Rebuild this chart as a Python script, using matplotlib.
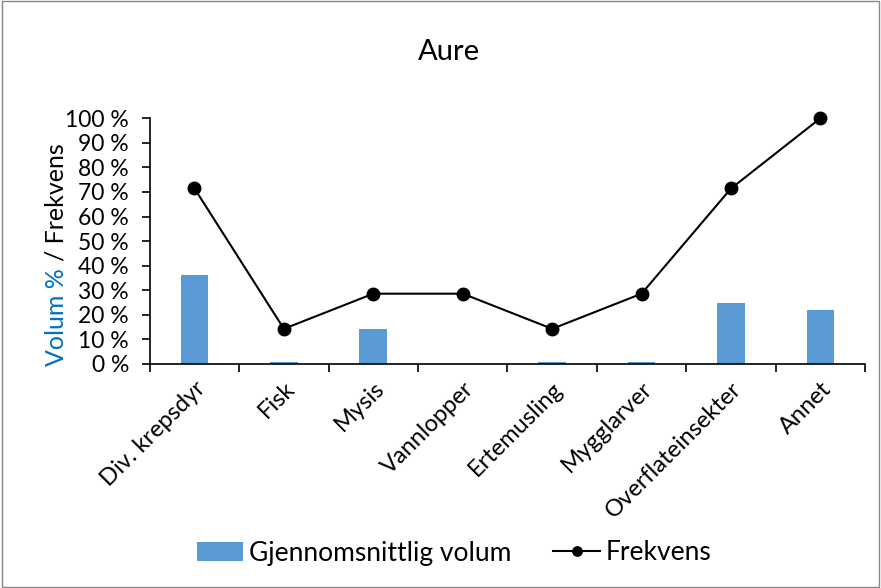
import numpy as np
import matplotlib.pyplot as plt
from matplotlib.patches import Rectangle

# data
kategorier = ['Div. krepsdyr', 'Fisk', 'Mysis', 'Vannlopper', 'Ertemusling',
              'Mygglarver', 'Overflateinsekter', 'Annet']
volum = [36, 1, 14.3, 0, 1, 1, 24.7, 21.8]
frekvens = [71.4, 14.3, 28.6, 28.6, 14.3, 28.6, 71.4, 100]

plt.rcParams['font.family'] = ['Lato', 'DejaVu Sans']

fig = plt.figure(figsize=(8.81, 5.88), dpi=100)
ax = fig.add_axes([0.170, 0.381, 0.812, 0.418])

x = np.arange(len(kategorier))
stolper = ax.bar(x, volum, width=0.31, color='#5B9BD5', label='Gjennomsnittlig volum', zorder=2)
linje, = ax.plot(x, frekvens, color='black', lw=1.5, marker='o', ms=9,
                 label='Frekvens', zorder=3, clip_on=False)

ax.set_xlim(-0.5, len(kategorier) - 0.5)
ax.set_ylim(0, 100)
ax.set_yticks(np.arange(0, 101, 10))
ax.set_yticklabels([f'{v} %' for v in range(0, 101, 10)], fontsize=16.5)
ax.set_xticks(x)
ax.set_xticklabels(kategorier, rotation=45, ha='right', rotation_mode='anchor', fontsize=17)
ax.tick_params(axis='x', length=0, pad=10)
ax.set_xticks(np.arange(-0.5, len(kategorier), 1), minor=True)
ax.tick_params(axis='x', which='minor', length=6, width=1.2, direction='out')
ax.tick_params(axis='y', length=6, width=1.2, direction='out', pad=9)
for s in ['top', 'right']:
    ax.spines[s].set_visible(False)
for s in ['left', 'bottom']:
    ax.spines[s].set_linewidth(1.2)

fig.text(449 / 881, 1 - 52 / 588, 'Aure', fontsize=21, ha='center', va='center')

# y-aksetittel i to farger
t1 = fig.text(0.064, 1 - 366 / 588, 'Volum %', color='#0070C0', rotation=90,
              ha='center', va='bottom', fontsize=18)
fig.canvas.draw()
bb = t1.get_window_extent(renderer=fig.canvas.get_renderer())
y2 = (bb.y1 + 7) / fig.bbox.height
fig.text(0.064, y2, '/ Frekvens', color='black', rotation=90,
         ha='center', va='bottom', fontsize=18)

leg = fig.legend(handles=[stolper, linje], loc='center', bbox_to_anchor=(454 / 881, 1 - 553 / 588),
                 ncol=2, frameon=False, fontsize=19, handlelength=1.75, columnspacing=1.6,
                 handletextpad=0.23, markerscale=0.75)

fig.patches.append(Rectangle((0.002, 0.002), 0.996, 0.996, transform=fig.transFigure,
                             fill=False, edgecolor='#888888', lw=1))

fig.savefig('out.png', dpi=100)
